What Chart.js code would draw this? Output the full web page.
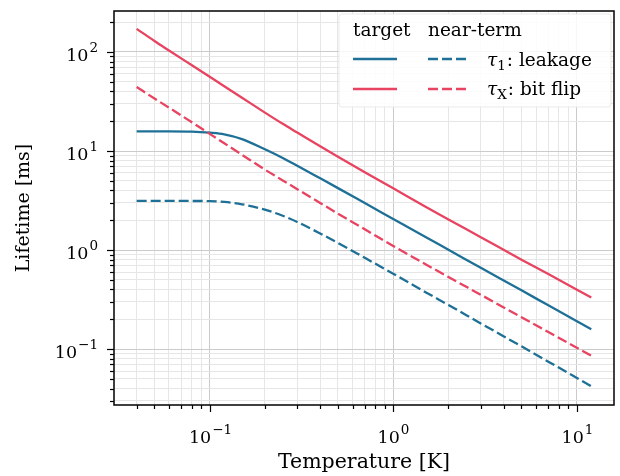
<!DOCTYPE html>
<html>
<head>
<meta charset="utf-8">
<script src="https://cdn.jsdelivr.net/npm/chart.js@4.4.1/dist/chart.umd.min.js"></script>
<style>
  html, body { margin: 0; padding: 0; background: #fff; }
  #wrap { width: 620px; height: 476px; }
</style>
</head>
<body>
<div id="wrap"><canvas id="chart" width="620" height="476"></canvas></div>
<script>
/* ── DATA ───────────────────────────────────── */
const temps = [0.04, 0.05, 0.06, 0.08, 0.1, 0.12, 0.15, 0.2, 0.25, 0.3, 0.4, 0.5, 0.7, 1, 1.5, 2, 3, 5, 7, 12];
const targetLeakage = [15.8, 15.8, 15.8, 15.7, 15.3, 14.75, 13.2, 10.4, 8.5, 7.1, 5.3, 4.22, 2.98, 2.06, 1.354, 1.007, 0.663, 0.392, 0.277, 0.159];
const targetBitFlip = [171, 129, 103.5, 73.3, 56.1, 45.1, 34.5, 24.4, 18.8, 15.35, 11.15, 8.75, 6.11, 4.2, 2.74, 2.04, 1.35, 0.80, 0.572, 0.332];
const nearLeakage = [3.14, 3.14, 3.14, 3.13, 3.12, 3.06, 2.9, 2.56, 2.22, 1.92, 1.47, 1.18, 0.835, 0.577, 0.376, 0.279, 0.182, 0.1067, 0.0748, 0.0422];
const nearBitFlip = [44.3, 33.9, 27.4, 19.5, 14.9, 11.97, 9.16, 6.49, 5.05, 4.12, 2.99, 2.33, 1.62, 1.1, 0.72, 0.535, 0.354, 0.21, 0.149, 0.0857];

const legendHeaders = ['target', 'near-term'];
const legendRows = [
    { sym: 'τ', sub: '1', text: ': leakage' },
    { sym: 'τ', sub: 'X', text: ': bit flip' }
];

const BLUE = '#1e7096';
const RED  = '#e84360';
const FONT = "'DejaVu Serif', serif";

/* ── HELPERS ────────────────────────────────── */
const isDecade = v => Math.abs(Math.log10(v) - Math.round(Math.log10(v))) < 1e-9;
const expText = v => String(Math.round(Math.log10(v))).replace('-', '\u2212');

function logTicks(min, max) {
    const out = [];
    for (let e = Math.floor(Math.log10(min)); e <= Math.ceil(Math.log10(max)); e++) {
        for (let k = 1; k <= 9; k++) {
            const v = +(k * Math.pow(10, e)).toPrecision(6);
            if (v >= min && v <= max) out.push({ value: v });
        }
    }
    return out;
}

const toPoints = ys => temps.map((t, i) => ({ x: t, y: ys[i] }));

const gridColor = ctx => (ctx.tick && isDecade(ctx.tick.value)) ? '#cbcbcb' : '#e6e6e6';

// "10" with a raised exponent; anchor = 'center' (x axis) or 'right' (y axis)
function drawPow(ctx, v, x, yBase, anchor) {
    const base = '10', ex = expText(v);
    ctx.font = `17.5px ${FONT}`;
    const wb = ctx.measureText(base).width;
    ctx.font = `13.5px ${FONT}`;
    const we = ctx.measureText(ex).width;
    const total = wb + 1 + we;
    const x0 = anchor === 'center' ? x - total / 2 : x - total;
    ctx.font = `17.5px ${FONT}`;
    ctx.fillText(base, x0, yBase);
    ctx.font = `13.5px ${FONT}`;
    ctx.fillText(ex, x0 + wb + 1, yBase - 9);
}

/* ── PLUGIN: frame, tick marks, tick labels, legend ── */
const framePlugin = {
    id: 'frame',
    afterDatasetsDraw(chart) {
        const { ctx, chartArea: a, scales } = chart;
        ctx.save();
        ctx.strokeStyle = '#000';
        ctx.fillStyle = '#000';
        ctx.lineWidth = 1.2;
        ctx.textBaseline = 'alphabetic';
        scales.x.ticks.forEach(t => {
            const px = Math.round(scales.x.getPixelForValue(t.value)) + 0.5;
            const len = isDecade(t.value) ? 7 : 4;
            ctx.beginPath();
            ctx.moveTo(px, a.bottom);
            ctx.lineTo(px, a.bottom + len);
            ctx.stroke();
            if (isDecade(t.value)) drawPow(ctx, t.value, px, a.bottom + 38, 'center');
        });
        scales.y.ticks.forEach(t => {
            const py = Math.round(scales.y.getPixelForValue(t.value)) + 0.5;
            const len = isDecade(t.value) ? 7 : 4;
            ctx.beginPath();
            ctx.moveTo(a.left, py);
            ctx.lineTo(a.left - len, py);
            ctx.stroke();
            if (isDecade(t.value)) drawPow(ctx, t.value, a.left - 16, py + 8, 'right');
        });
        ctx.lineWidth = 1.5;
        ctx.strokeRect(a.left, a.top, a.right - a.left, a.bottom - a.top);
        ctx.restore();
    },
    afterDraw(chart) {
        const { ctx } = chart;
        ctx.save();
        const bx = 339, by = 14, bw = 272, bh = 93;
        ctx.fillStyle = 'rgba(255,255,255,0.85)';
        ctx.strokeStyle = 'rgba(232,232,232,0.9)';
        ctx.lineWidth = 1;
        ctx.beginPath();
        ctx.roundRect(bx, by, bw, bh, 3);
        ctx.fill();
        ctx.stroke();

        ctx.fillStyle = '#000';
        ctx.textBaseline = 'alphabetic';
        ctx.font = `18.5px ${FONT}`;
        ctx.fillText(legendHeaders[0], 353, 36);
        ctx.fillText(legendHeaders[1], 428, 36);

        const rows = [{ y: 59, color: BLUE, base: 66 }, { y: 89, color: RED, base: 95 }];
        rows.forEach((r, i) => {
            ctx.strokeStyle = r.color;
            ctx.lineWidth = 2.3;
            ctx.setLineDash([]);
            ctx.beginPath();
            ctx.moveTo(353, r.y); ctx.lineTo(397, r.y);
            ctx.stroke();
            ctx.setLineDash([10, 4]);
            ctx.beginPath();
            ctx.moveTo(428, r.y); ctx.lineTo(467, r.y);
            ctx.stroke();
            ctx.setLineDash([]);

            const lab = legendRows[i];
            let x = 487;
            ctx.font = `italic 18.5px ${FONT}`;
            ctx.fillText(lab.sym, x, r.base);
            x += ctx.measureText(lab.sym).width;
            ctx.font = `13.5px ${FONT}`;
            ctx.fillText(lab.sub, x, r.base + 4);
            x += ctx.measureText(lab.sub).width + 1;
            ctx.font = `18.5px ${FONT}`;
            ctx.fillText(lab.text, x, r.base);
        });
        ctx.restore();
    }
};

/* ── CHART ──────────────────────────────────── */
Chart.defaults.font.family = FONT;
Chart.defaults.font.size = 18;
Chart.defaults.color = '#000';

const X_MIN = 0.0301, X_MAX = 15.96;
const Y_MIN = 0.0273, Y_MAX = 259;

const line = (label, ys, color, dashed, order) => ({
    label,
    data: toPoints(ys),
    borderColor: color,
    backgroundColor: color,
    borderWidth: 2.3,
    borderDash: dashed ? [10, 4] : [],
    pointRadius: 0,
    cubicInterpolationMode: 'monotone',
    fill: false,
    order
});

new Chart(document.getElementById('chart'), {
    type: 'line',
    data: {
        datasets: [
            line('target τ1: leakage', targetLeakage, BLUE, false, 4),
            line('target τX: bit flip', targetBitFlip, RED, false, 3),
            line('near-term τ1: leakage', nearLeakage, BLUE, true, 2),
            line('near-term τX: bit flip', nearBitFlip, RED, true, 1)
        ]
    },
    options: {
        responsive: false,
        animation: false,
        devicePixelRatio: 1,
        layout: { padding: { top: 11, right: 6, left: 0, bottom: 0 } },
        plugins: { legend: { display: false }, tooltip: { enabled: false } },
        scales: {
            x: {
                type: 'logarithmic',
                min: X_MIN,
                max: X_MAX,
                afterBuildTicks: s => { s.ticks = logTicks(X_MIN, X_MAX); },
                afterFit: s => { s.height = 71; s.paddingLeft = 0; s.paddingRight = 0; },
                grid: { color: gridColor, lineWidth: 1, drawTicks: false },
                border: { display: false },
                ticks: { display: false },
                title: { display: true, text: 'Temperature [K]', font: { size: 20.5 }, padding: { top: 0, bottom: 1 } }
            },
            y: {
                type: 'logarithmic',
                min: Y_MIN,
                max: Y_MAX,
                afterBuildTicks: s => { s.ticks = logTicks(Y_MIN, Y_MAX); },
                afterFit: s => { s.width = 114; s.paddingTop = 0; s.paddingBottom = 0; },
                grid: { color: gridColor, lineWidth: 1, drawTicks: false },
                border: { display: false },
                ticks: { display: false },
                title: { display: true, text: 'Lifetime [ms]', font: { size: 19 }, padding: { top: 13, bottom: 0 } }
            }
        }
    },
    plugins: [framePlugin]
});
</script>
</body>
</html>
